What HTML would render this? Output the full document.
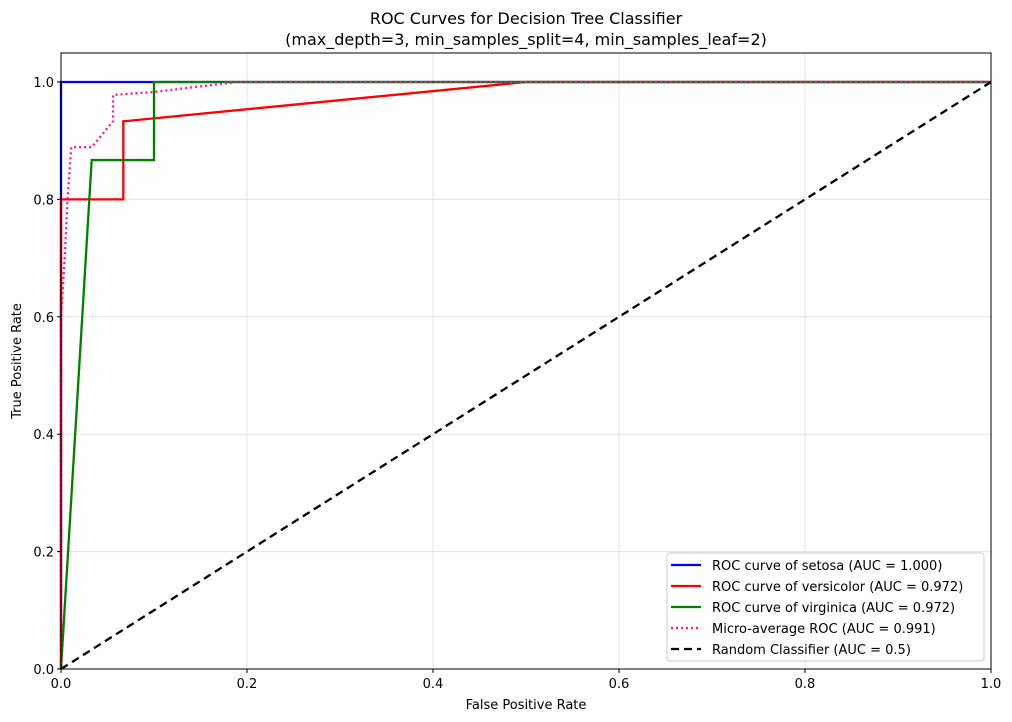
<!DOCTYPE html>
<html><head><meta charset="utf-8"><style>
body{margin:0;background:#fff;}
svg{display:block;font-family:"DejaVu Sans","Liberation Sans",sans-serif;}
</style></head><body>
<svg id="chart" width="1012" height="722" xmlns="http://www.w3.org/2000/svg">
<rect width="1012" height="722" fill="#fff"/>
<text x="526" y="24" text-anchor="middle" font-size="16">ROC Curves for Decision Tree Classifier</text>
<text x="526" y="45" text-anchor="middle" font-size="16">(max_depth=3, min_samples_split=4, min_samples_leaf=2)</text>
<g id="grid"></g>
<g id="series"></g>
<rect x="61" y="53" width="930" height="616" fill="none" stroke="#000" stroke-width="1"/>
<g id="ticks" font-size="13"></g>
<text x="526" y="709" text-anchor="middle" font-size="13">False Positive Rate</text>
<text transform="translate(21,361) rotate(-90)" text-anchor="middle" font-size="13">True Positive Rate</text>
<g id="legend">
<rect x="667" y="553" width="317" height="108" rx="3" fill="#fff" fill-opacity="0.8" stroke="#ccc"/>
</g>
</svg>
<script>
const xTicks=[0,0.2,0.4,0.6,0.8,1.0];
const yTicks=[0,0.2,0.4,0.6,0.8,1.0];
const setosaFpr=[0,0,1];
const setosaTpr=[0,1,1];
const versicolorFpr=[0,0,0.067,0.067,0.5,1];
const versicolorTpr=[0,0.8,0.8,0.933,1,1];
const virginicaFpr=[0,0.033,0.1,0.1,1];
const virginicaTpr=[0,0.867,0.867,1,1];
const microFpr=[0,0,0.004,0.007,0.011,0.033,0.056,0.056,0.1,0.189,1];
const microTpr=[0,0.6,0.7,0.8,0.889,0.889,0.933,0.978,0.983,1,1];
const randomFpr=[0,1];
const randomTpr=[0,1];
const labels=["ROC curve of setosa (AUC = 1.000)","ROC curve of versicolor (AUC = 0.972)","ROC curve of virginica (AUC = 0.972)","Micro-average ROC (AUC = 0.991)","Random Classifier (AUC = 0.5)"];
const NS="http://www.w3.org/2000/svg";
const X=v=>61+v*930, Y=v=>669-v*587;
const grid=document.getElementById('grid'),ticks=document.getElementById('ticks');
function mk(t,a,p){const e=document.createElementNS(NS,t);for(const k in a)e.setAttribute(k,a[k]);p.appendChild(e);return e;}
xTicks.forEach(v=>{
 const g=mk('line',{x1:X(v),x2:X(v),y1:53,y2:669,stroke:'#e5e5e5','stroke-width':1},grid);
 
 
 mk('line',{x1:X(v),x2:X(v),y1:669,y2:673,stroke:'#000'},ticks);
 const t=mk('text',{x:X(v),y:688,'text-anchor':'middle'},ticks);t.textContent=v.toFixed(1);
 
 
});
yTicks.forEach(v=>{
 const g=mk('line',{x1:61,x2:991,y1:Y(v),y2:Y(v),stroke:'#e5e5e5','stroke-width':1},grid);
 
 
 mk('line',{x1:57,x2:61,y1:Y(v),y2:Y(v),stroke:'#000'},ticks);
 const t=mk('text',{x:54,y:Y(v)+5,'text-anchor':'end'},ticks);t.textContent=v.toFixed(1);
 
 
});
const series=[
 {fx:setosaFpr,ty:setosaTpr,c:'blue',d:'',n:'setosa-roc-line'},
 {fx:versicolorFpr,ty:versicolorTpr,c:'red',d:'',n:'versicolor-roc-line'},
 {fx:virginicaFpr,ty:virginicaTpr,c:'green',d:'',n:'virginica-roc-line'},
 {fx:microFpr,ty:microTpr,c:'deeppink',d:'2,3',n:'micro-average-roc-line'},
 {fx:randomFpr,ty:randomTpr,c:'#000',d:'8,5',n:'random-classifier-line'}];
const sg=document.getElementById('series');
series.forEach(s=>{
 const p=mk('polyline',{points:s.fx.map((f,i)=>X(f)+','+Y(s.ty[i])).join(' '),fill:'none',stroke:s.c,'stroke-width':2.3,'stroke-dasharray':s.d},sg);
 
 
});
const lg=document.getElementById('legend');
const lc=['blue','red','green','deeppink','#000'],ld=['','','','2,3','8,5'];
labels.forEach((l,i)=>{
 const y=565+i*21;
 mk('line',{x1:671,x2:701,y1:y,y2:y,stroke:lc[i],'stroke-width':2.3,'stroke-dasharray':ld[i]},lg);
 const t=mk('text',{x:712,y:y+5,'font-size':13},lg);t.textContent=l;
 
 
});
</script>
</body></html>
